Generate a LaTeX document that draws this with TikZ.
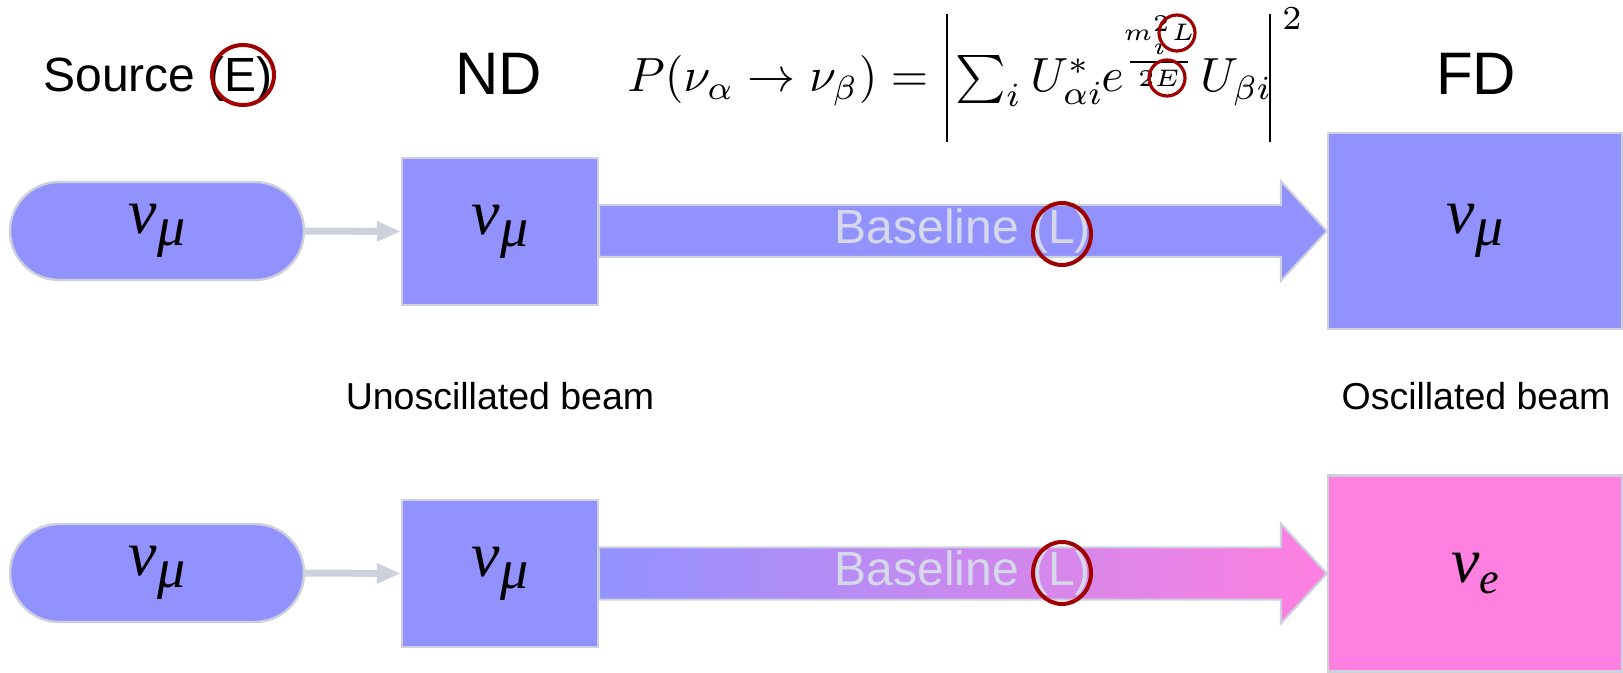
\documentclass[tikz,border=0pt]{standalone}
\usepackage[no-math]{fontspec}
\usepackage{graphicx}
\setmainfont{Liberation Sans}
\newfontfamily\nufont{Liberation Serif}
\usetikzlibrary{arrows.meta,calc,shapes.misc}
\definecolor{nublue}{RGB}{146,146,255}
\definecolor{nupink}{RGB}{255,128,224}
\definecolor{edgegray}{RGB}{205,209,220}
\definecolor{labelgray}{RGB}{212,216,232}
\definecolor{circred}{RGB}{160,0,0}
\newcommand{\numu}{{\nufont\itshape\fontsize{32}{36}\selectfont ν\raisebox{-6pt}{\fontsize{28}{30}\selectfont μ}}}
\newcommand{\nue}{{\nufont\itshape\fontsize{32}{36}\selectfont ν\raisebox{-5.5pt}{\fontsize{22}{26}\selectfont e}}}
\newcommand{\fm}[1]{\scalebox{2.4}{$#1$}}
\begin{document}
\begin{tikzpicture}[x=0.5pt,y=-0.5pt,
  srcbox/.style={rounded rectangle, fill=nublue, draw=edgegray, line width=1.2pt,
    minimum width=147pt, minimum height=49pt, inner sep=0pt},
  ndbox/.style={rectangle, fill=nublue, draw=edgegray, line width=1.2pt,
    minimum width=98pt, minimum height=73.5pt, inner sep=0pt},
  fdbox/.style={rectangle, draw=edgegray, line width=1.2pt,
    minimum width=147pt, minimum height=98pt, inner sep=0pt},
  smallarrow/.style={draw=edgegray, line width=3.5pt,
    -{Triangle[length=12pt,width=9.5pt]}},
  bigarrow/.style={draw=edgegray, line width=1pt, line join=miter},
  heading/.style={anchor=base, inner sep=0pt},
  fpart/.style={anchor=base west, inner sep=0pt},
  fcpart/.style={anchor=base, inner sep=0pt},
  absbar/.style={line width=1.2pt},
  fracbar/.style={line width=1.2pt},
  beamlbl/.style={anchor=base, inner sep=0pt, font=\fontsize{18.75}{22}\selectfont},
  basetext/.style={inner sep=0pt, text=labelgray, font=\fontsize{24}{28}\selectfont},
  circ/.style={draw=circred, line width=2pt},
  smallcirc/.style={draw=circred, line width=1.6pt}
]
\useasboundingbox (0,0) rectangle (1623,673);

% headings
\node[heading] (srclbl) at (158,92) {\fontsize{24}{28}\selectfont Source (E)};
\node[heading] (ndlbl) at (499,95) {\fontsize{30}{34}\selectfont ND};
\node[heading] (fdlbl) at (1476,95) {\fontsize{30}{34}\selectfont FD};

% formula P(nu_alpha -> nu_beta) = | sum_i U*_{alpha i} e^{m_i^2 L / 2E} U_{beta i} |^2
\node[fpart] (fP) at (627,92) {\fm{P(\nu_\alpha \to \nu_\beta) =}};
\coordinate (barLt) at (947,14);
\coordinate (barLb) at (947,142);
\draw[absbar] (barLt) -- (barLb);
\node[fpart] (fsum) at (955,92) {\fm{\sum\nolimits_i}};
\node[fpart] (fU1) at (1030,92) {\fm{U^*_{\alpha i}}};
\node[fpart] (fe) at (1101,92) {\fm{e}};
\node[fcpart] (fnum) at (1159,41) {\fm{\scriptscriptstyle m_i^2 L}};
\node[fcpart] (fden) at (1159,87) {\fm{\scriptscriptstyle 2E}};
\coordinate (fracl) at (1130,62);
\coordinate (fracr) at (1188,62);
\draw[fracbar] (fracl) -- (fracr);
\node[fpart] (fU2) at (1200,92) {\fm{U_{\beta i}}};
\coordinate (barRt) at (1270,14);
\coordinate (barRb) at (1270,142);
\draw[absbar] (barRt) -- (barRb);
\node[fcpart] (fsq) at (1292,30) {\fm{\scriptstyle 2}};

% row 1
\node[srcbox] (src1) at (157,231) {\numu};
\node[ndbox] (nd1) at (500,231.5) {\numu};
\node[fdbox, fill=nublue] (fd1) at (1475,231) {\numu};
\draw[smallarrow] (src1.east) -- (nd1.west);
\path[bigarrow, fill=nublue]
  ($(nd1.east |- fd1.west)+(0,-26)$) -- ($(fd1.west)+(-46,-26)$) -- ($(fd1.west)+(-46,-50)$)
  -- (fd1.west) -- ($(fd1.west)+(-46,50)$) -- ($(fd1.west)+(-46,26)$)
  -- ($(nd1.east |- fd1.west)+(0,26)$) -- cycle;
\node[basetext] (bl1) at (963,231) {Baseline (L)};

% labels
\node[beamlbl] (unosc) at (500,410) {Unoscillated beam};
\node[beamlbl] (osc) at (1476,410) {Oscillated beam};

% row 2
\node[srcbox] (src2) at (157,573) {\numu};
\node[ndbox] (nd2) at (500,573.5) {\numu};
\node[fdbox, fill=nupink] (fd2) at (1475,573.5) {\nue};
\draw[smallarrow] (src2.east) -- (nd2.west);
\path[bigarrow, left color=nublue, right color=nupink]
  ($(nd2.east |- fd2.west)+(0,-26)$) -- ($(fd2.west)+(-46,-26)$) -- ($(fd2.west)+(-46,-50)$)
  -- (fd2.west) -- ($(fd2.west)+(-46,50)$) -- ($(fd2.west)+(-46,26)$)
  -- ($(nd2.east |- fd2.west)+(0,26)$) -- cycle;
\node[basetext] (bl2) at (963,573) {Baseline (L)};

% red circles
\draw[circ] (243,75) ellipse [x radius=15.5pt, y radius=15pt];
\draw[smallcirc] (1177,33) circle [radius=9pt];
\draw[smallcirc] (1167,78) circle [radius=9pt];
\draw[circ] (1062,234) ellipse [x radius=14.5pt, y radius=15.5pt];
\draw[circ] (1062,573) ellipse [x radius=14.5pt, y radius=15.5pt];
\end{tikzpicture}
\end{document}
